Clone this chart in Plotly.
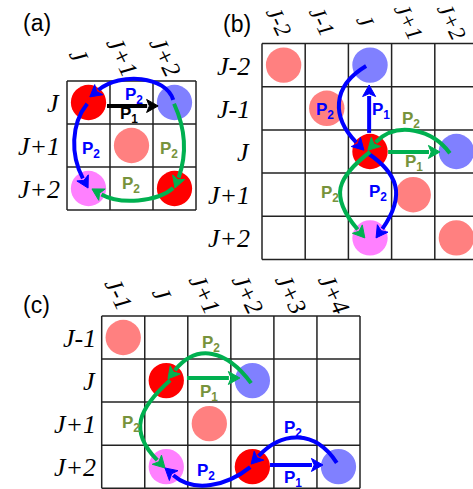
import math
import plotly.graph_objects as go

W, H = 473, 489
RADIUS = 0.41          # circle radius in cell units
LINE_W = 4
HEAD_LEN = 11
HEAD_HALF = 6.5

# colours
RED = "#FF0000"
SALMON = "#FF8080"
LILAC = "#8080FF"
PINK = "#FF80FF"
BLUE = "#0000FF"
GREEN = "#00B050"
OLIVE = "#77933C"
BLACK = "#000000"
FILL = {"red": RED, "salmon": SALMON, "lilac": LILAC, "pink": PINK}

# ---- panel contents -------------------------------------------------------
panel_tags = ["(a)", "(b)", "(c)"]
row_labels = [
    ["J", "J+1", "J+2"],
    ["J-2", "J-1", "J", "J+1", "J+2"],
    ["J-1", "J", "J+1", "J+2"],
]
col_labels = [
    ["J", "J+1", "J+2"],
    ["J-2", "J-1", "J", "J+1", "J+2"],
    ["J-1", "J", "J+1", "J+2", "J+3", "J+4"],
]

# occupied cells: (row, col, kind)
circles_a = [(0, 0, "red"), (0, 2, "lilac"), (1, 1, "salmon"), (2, 0, "pink"), (2, 2, "red")]
circles_b = [(0, 0, "salmon"), (0, 2, "lilac"), (1, 1, "salmon"), (2, 2, "red"),
             (2, 4, "lilac"), (3, 3, "salmon"), (4, 2, "pink"), (4, 4, "salmon")]
circles_c = [(0, 0, "salmon"), (1, 1, "red"), (1, 3, "lilac"), (2, 2, "salmon"),
             (3, 1, "pink"), (3, 3, "red"), (3, 5, "lilac")]

# transitions: (colour, start, ctrl1, ctrl2, tip) in cell units (col, row); straight if ctrl is None
arrows_a = [
    (BLACK, (0.93, 0.58), None, None, (2.12, 0.58)),
    (BLUE, (2.47, 0.44), (2.30, -0.12), (1.05, -0.05), (0.53, 0.37)),
    (BLUE, (0.47, 0.53), (0.09, 1.00), (0.20, 1.95), (0.49, 2.49)),
    (GREEN, (2.49, 0.53), (2.75, 1.10), (2.72, 1.90), (2.51, 2.49)),
    (GREEN, (2.47, 2.49), (2.10, 2.82), (1.00, 2.75), (0.58, 2.51)),
]
arrows_b = [
    (BLUE, (2.48, 2.07), None, None, (2.48, 0.96)),
    (BLUE, (2.41, 0.52), (1.60, 1.00), (1.80, 1.90), (2.36, 2.47)),
    (GREEN, (2.92, 2.51), None, None, (4.12, 2.51)),
    (GREEN, (4.35, 2.54), (3.95, 2.00), (2.95, 1.96), (2.45, 2.47)),
    (BLUE, (2.45, 2.54), (3.13, 3.00), (3.20, 3.70), (2.64, 4.50)),
    (GREEN, (2.50, 2.51), (1.75, 3.10), (1.70, 3.70), (2.38, 4.50)),
]
arrows_c = [
    (GREEN, (1.98, 1.44), None, None, (3.21, 1.44)),
    (GREEN, (3.47, 1.56), (2.90, 0.78), (2.05, 0.83), (1.54, 1.46)),
    (GREEN, (1.59, 1.49), (0.85, 2.15), (0.80, 2.85), (1.47, 3.53)),
    (BLUE, (3.45, 3.51), (2.90, 3.95), (1.95, 3.95), (1.47, 3.53)),
    (BLUE, (5.46, 3.41), (4.95, 2.62), (4.00, 2.87), (3.47, 3.44)),
    (BLUE, (3.91, 3.46), None, None, (5.14, 3.46)),
]

# path labels: (symbol, subscript, colour, (col, row))
tags_a = [("P", "1", BLACK, (1.45, 0.79)), ("P", "2", BLUE, (1.56, 0.35)),
          ("P", "2", BLUE, (0.56, 1.60)), ("P", "2", OLIVE, (2.37, 1.60)),
          ("P", "2", OLIVE, (1.49, 2.42))]
tags_b = [("P", "1", BLUE, (2.76, 1.56)), ("P", "2", BLUE, (1.46, 1.57)),
          ("P", "2", OLIVE, (3.45, 1.76)), ("P", "1", OLIVE, (3.52, 2.77)),
          ("P", "2", OLIVE, (1.57, 3.49)), ("P", "2", BLUE, (2.69, 3.47))]
tags_c = [("P", "1", OLIVE, (2.49, 1.79)), ("P", "2", OLIVE, (2.54, 0.66)),
          ("P", "2", OLIVE, (0.68, 2.51)), ("P", "2", BLUE, (2.42, 3.62)),
          ("P", "2", BLUE, (4.44, 2.63)), ("P", "1", BLUE, (4.44, 3.79))]

panels = [
    dict(origin=(67, 81), cell=43.0, circles=circles_a, arrows=arrows_a, tags=tags_a,
         tag_at=(37, 23), row_gap=5, col_dx=-9, col_dy=-25, col_size=25),
    dict(origin=(262, 43.5), cell=43.2, circles=circles_b, arrows=arrows_b, tags=tags_b,
         tag_at=(237, 24), row_gap=10, col_dx=-5, col_dy=-22, col_size=23),
    dict(origin=(101.7, 316), cell=43.05, circles=circles_c, arrows=arrows_c, tags=tags_c,
         tag_at=(36, 305), row_gap=4, col_dx=-4, col_dy=-22, col_size=25),
]

shapes, annotations = [], []


def bezier_path(p0, p1, p2, p3):
    return "M {:.2f},{:.2f} C {:.2f},{:.2f} {:.2f},{:.2f} {:.2f},{:.2f}".format(*p0, *p1, *p2, *p3)


for k, pan in enumerate(panels):
    ox, oy = pan["origin"]
    c = pan["cell"]
    nr, nc = len(row_labels[k]), len(col_labels[k])

    def P(u, v):
        return (ox + u * c, oy + v * c)

    # grid
    for i in range(nr + 1):
        shapes.append(dict(type="line", x0=ox, x1=ox + nc * c, y0=oy + i * c, y1=oy + i * c,
                           line=dict(color="#222", width=1.5), layer="below"))
    for j in range(nc + 1):
        shapes.append(dict(type="line", x0=ox + j * c, x1=ox + j * c, y0=oy, y1=oy + nr * c,
                           line=dict(color="#222", width=1.5), layer="below"))

    # occupied cells
    for r, col, kind in pan["circles"]:
        cx, cy = P(col + 0.5, r + 0.5)
        rr = RADIUS * c
        shapes.append(dict(type="circle", x0=cx - rr, x1=cx + rr, y0=cy - rr, y1=cy + rr,
                           fillcolor=FILL[kind], line=dict(width=0), layer="above"))

    # transitions
    for color, s, c1, c2, t in pan["arrows"]:
        ps, pt = P(*s), P(*t)
        if c1 is None:
            pa, pb = ps, ps
            ref = ps
        else:
            pa, pb = P(*c1), P(*c2)
            ref = pb
        dx, dy = pt[0] - ref[0], pt[1] - ref[1]
        n = math.hypot(dx, dy)
        ux, uy = dx / n, dy / n
        base = (pt[0] - ux * HEAD_LEN, pt[1] - uy * HEAD_LEN)
        shift = (base[0] - pt[0], base[1] - pt[1])
        if c1 is None:
            path = "M {:.2f},{:.2f} L {:.2f},{:.2f}".format(*ps, *base)
        else:
            pb2 = (pb[0] + shift[0], pb[1] + shift[1])
            path = bezier_path(ps, pa, pb2, base)
        shapes.append(dict(type="path", path=path, line=dict(color=color, width=LINE_W),
                           layer="above"))
        back = (pt[0] - ux * HEAD_LEN * 1.05, pt[1] - uy * HEAD_LEN * 1.05)
        l1 = (back[0] - uy * HEAD_HALF, back[1] + ux * HEAD_HALF)
        l2 = (back[0] + uy * HEAD_HALF, back[1] - ux * HEAD_HALF)
        notch = (pt[0] - ux * HEAD_LEN * 0.8, pt[1] - uy * HEAD_LEN * 0.8)
        head = "M {:.2f},{:.2f} L {:.2f},{:.2f} L {:.2f},{:.2f} L {:.2f},{:.2f} Z".format(
            *pt, *l1, *notch, *l2)
        shapes.append(dict(type="path", path=head, fillcolor=color,
                           line=dict(color=color, width=1), layer="above"))

    # path labels
    for sym, sub, color, (u, v) in pan["tags"]:
        x, y = P(u, v)
        annotations.append(dict(x=x, y=y, text="<b>{}<sub>{}</sub></b>".format(sym, sub),
                                showarrow=False, xanchor="center", yanchor="middle",
                                font=dict(family="Liberation Sans", size=17, color=color)))

    # row labels
    for i, lab in enumerate(row_labels[k]):
        annotations.append(dict(x=ox - pan["row_gap"], y=oy + (i + 0.5) * c + 1,
                                text="<i>{}</i>".format(lab),
                                showarrow=False, xanchor="right", yanchor="middle",
                                font=dict(family="Liberation Serif", size=26, color=BLACK)))

    # column labels
    for j, lab in enumerate(col_labels[k]):
        annotations.append(dict(x=ox + (j + 0.5) * c + pan["col_dx"], y=oy + pan["col_dy"],
                                text="<i>{}</i>".format(lab), textangle=64,
                                showarrow=False, xanchor="center", yanchor="middle",
                                font=dict(family="Liberation Serif", size=pan["col_size"],
                                          color=BLACK)))

    # panel tag
    tx, ty = pan["tag_at"]
    annotations.append(dict(x=tx, y=ty, text=panel_tags[k], showarrow=False,
                            xanchor="center", yanchor="middle",
                            font=dict(family="Liberation Sans", size=23, color=BLACK)))

fig = go.Figure()
fig.add_trace(go.Scatter(x=[0, W], y=[0, H], mode="markers", marker=dict(opacity=0),
                         hoverinfo="skip", showlegend=False))
fig.update_layout(
    width=W, height=H, margin=dict(l=0, r=0, t=0, b=0),
    paper_bgcolor="white", plot_bgcolor="white",
    xaxis=dict(range=[0, W], visible=False, fixedrange=True),
    yaxis=dict(range=[H, 0], visible=False, fixedrange=True),
    shapes=shapes, annotations=annotations, showlegend=False,
)
fig.write_html("out.html")
